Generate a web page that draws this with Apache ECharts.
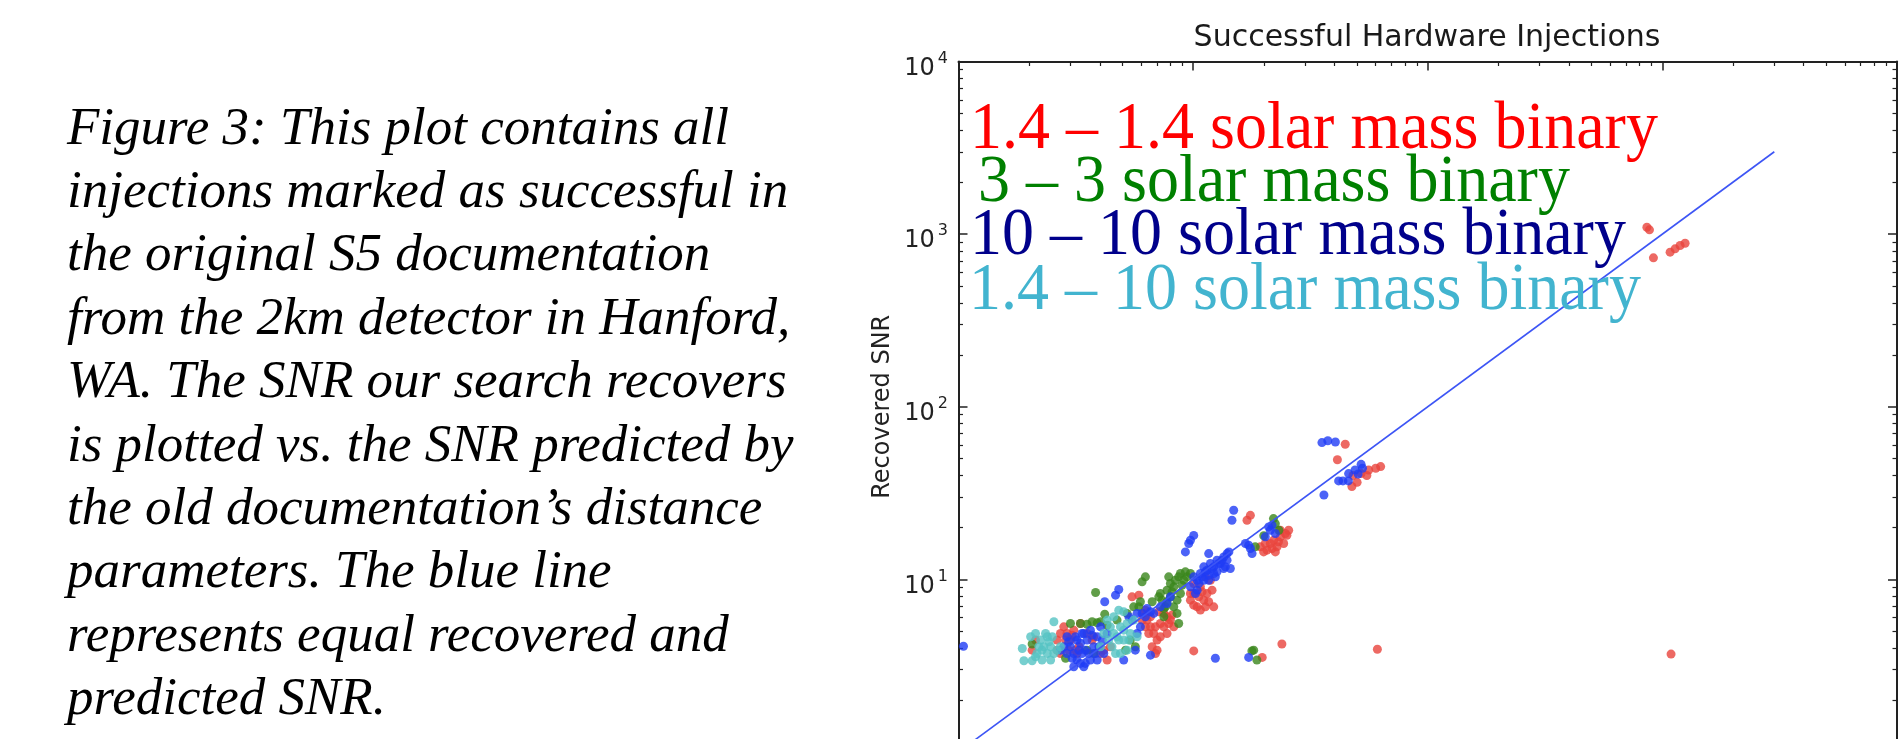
<!DOCTYPE html>
<html>
<head>
<meta charset="utf-8">
<script src="https://cdn.jsdelivr.net/npm/echarts@6/dist/echarts.min.js"></script>
<style>
html,body{margin:0;padding:0;background:#fff;}
#chart{width:1899px;height:739px;}
</style>
</head>
<body>
<div id="chart"></div>
<script>
// ---- data (predicted SNR, recovered SNR) ----
const seriesNames = [
  '1.4 \u2013 1.4 solar mass binary',
  '3 \u2013 3 solar mass binary',
  '10 \u2013 10 solar mass binary',
  '1.4 \u2013 10 solar mass binary'
];
const chartTitle = 'Successful Hardware Injections';
const yAxisName = 'Recovered SNR';
const captionLines = [
  'Figure 3: This plot contains all',
  'injections marked as successful in',
  'the original S5 documentation',
  'from the 2km detector in Hanford,',
  'WA. The SNR our search recovers',
  'is plotted vs. the SNR predicted by',
  'the old documentation\u2019s distance',
  'parameters. The blue line',
  'represents equal recovered and',
  'predicted SNR.'
];
const majorTicks = [1, 10, 100, 1000, 10000];
const minorTicks = [2,3,4,5,6,7,8,9,20,30,40,50,60,70,80,90,200,300,400,500,600,700,800,900,2000,3000,4000,5000,6000,7000,8000,9000];
const equalLine = [[1, 1], [3000, 3000]];

const red14 = [
  [2.06,3.89],[2.13,4.45],[2.63,4.45],[2.72,3.72],[2.81,5.31],[2.90,4.86],[3.00,4.45],[3.10,5.08],
  [3.15,3.89],[3.20,3.72],[3.31,5.55],[3.53,4.86],[3.71,4.45],[3.77,4.65],[4.03,3.72],[4.16,3.89],
  [4.30,3.41],[4.44,4.07],[2.72,4.86],[2.86,4.45],[3.05,4.75],[2.95,3.89],[3.26,4.07],[2.63,3.89],
  [6.16,6.35],[6.36,5.81],[6.58,5.31],[6.79,4.86],[7.02,4.45],[7.25,5.55],
  [7.50,6.35],[7.74,4.86],[8.00,5.81],[8.27,5.31],[6.69,4.07],[7.02,3.89],[6.91,3.72],[7.74,6.07],
  [6.26,6.63],[6.06,5.81],[6.47,4.86],[6.91,5.31],[7.25,4.65],[7.50,5.31],[7.87,5.55],[7.14,6.49],
  [6.58,6.07],[6.26,5.31],[8.13,6.21],
  [9.74,7.58],[10.06,8.28],[10.40,6.93],[10.74,9.05],[11.10,7.58],[11.46,8.28],[11.85,9.89],
  [12.24,6.93],[11.28,10.34],[10.06,9.46],[12.04,8.66],[9.74,8.28],[10.57,7.92],[10.92,8.47],[11.65,7.42],
  [10.06,7.09],[10.74,6.64],[11.28,6.93],
  [5.49,7.92],[5.87,8.10],[16.97,22.0],[17.54,23.5],
  [19.34,15.43],[20.65,14.76],[22.04,16.86],[22.78,15.43],[23.53,17.63],[24.72,18.43],[25.54,19.27],[24.32,16.13],
  [21.33,16.13],[19.98,14.43],[22.41,14.43],[23.53,19.27],[20.31,16.13],[23.1,16.5],[25.1,18.0],[21.7,15.1],
  [10.06,3.85],[23.9,4.22],[19.7,3.53],
  [41.2,49.3],[44.5,60.6],[47.5,34.5],[50,36.5],[48,40],[52,41],[55,40],[56,43],[60,44],[63,45],
  [859,1096],[881,1059],[916,729],[1079,786],[1133,822],[1190,859],[1250,886],
  [1089,3.69],[61,3.94]
];
const green3 = [
  [2.06,4.22],[3.84,8.39],[4.20,6.29],[3.31,5.55],[3.53,5.50],[3.90,5.60],[3.71,5.68],[3.00,5.55],
  [4.03,5.68],[4.30,5.43],[4.74,5.81],
  [2.86,3.49],[3.53,3.89],[3.77,3.72],[5.23,6.35],[5.58,6.93],[5.40,4.45],[5.67,4.07],[5.15,3.89],
  [5.87,6.93],[5.96,7.42],
  [6.06,9.68],[6.26,10.34],[6.69,7.42],[7.25,8.28],[7.62,6.93],[7.87,10.34],[8.27,9.05],[8.54,7.58],
  [8.83,10.81],[9.12,9.89],[9.42,10.34],[8.54,6.35],[8.68,5.55],[8.00,7.92],[7.50,6.07],[8.83,8.28],
  [8.27,6.93],[7.74,8.66],[7.37,7.58],[7.74,7.42],[8.13,8.47],[8.40,9.89],[8.97,9.25],[8.68,10.34],
  [8.00,9.46],[7.50,6.78],[7.14,7.92],[9.27,11.06],[9.74,10.81],
  [18.4,15.43],[20.0,17.9],[22.0,22.5],[22.4,21.0],[23.2,19.27],
  [18.12,3.89],[18.7,3.41],[17.8,3.85]
];
const blue10 = [
  [1.05,4.1],[2.72,3.89],[2.90,4.65],[3.00,4.07],[3.10,3.72],[3.20,3.41],[3.31,3.26],[3.42,4.86],
  [3.53,4.45],[3.65,5.08],[3.77,4.07],[3.90,4.65],[4.03,5.31],[4.16,3.72],[4.30,4.86],[3.20,4.45],
  [3.36,3.72],[3.65,3.41],[3.90,3.41],[3.47,3.26],[2.81,4.07],
  [2.90,3.72],[3.05,3.49],[3.15,4.65],[3.31,4.26],[3.47,3.89],[3.59,3.72],[3.71,4.75],[3.84,3.72],
  [3.97,4.07],[4.10,4.45],[3.26,3.89],[3.36,4.86],[3.10,3.12],[3.42,3.12],[2.95,4.35],
  [4.20,7.42],[4.67,8.10],[4.82,8.74],
  [5.32,6.07],[5.49,5.81],[5.77,4.86],[5.96,5.31],[5.67,3.89],[5.06,3.41],[5.77,6.35],[6.06,6.35],
  [6.36,6.78],[6.58,6.49],[6.26,6.07],[6.79,6.35],[7.25,6.93],[7.74,7.25],
  [8.00,7.92],[9.74,9.05],[10.06,10.34],[10.40,9.89],[10.74,10.81],[11.10,11.82],
  [11.46,11.30],[11.85,12.35],[12.24,11.82],[12.64,12.92],[13.06,12.35],[13.50,13.50],[13.95,14.11],[13.72,11.82],
  [14.41,11.56],[12.44,10.34],[11.65,9.89],[10.40,8.66],[10.23,8.28],[12.64,11.06],
  [10.57,9.46],[10.92,10.34],[11.28,11.06],[12.04,11.56],[12.85,12.35],[13.28,12.92],[13.50,11.56],[12.24,10.81],
  [11.65,10.57],[11.10,9.89],[13.95,12.92],[14.2,14.43],
  [9.27,14.43],[9.58,16.13],
  [9.74,16.86],[10.06,17.98],[11.65,14.11],[14.89,25.15],[14.64,22.0],[16.7,16.13],[17.25,15.78],[17.54,15.09],
  [17.83,14.11],[20.31,17.63],[20.99,20.14],[21.68,20.60],[22.41,18.43],[21.33,19.27],[6.58,3.64],[12.44,3.49],
  [17.25,3.53],[35.4,62],[37.5,63.5],[40.4,62.5],[36.1,30.8],[41.7,37.2],[43.5,37.2],[45.9,37.2],
  [46,41],[49,43],[52.7,44],[50.5,40.8],[52,46.4]
];
const cyan14_10 = [
  [1.87,3.98],[1.90,3.38],[2.06,3.38],[2.13,4.86],[2.35,4.86],[2.24,4.45],[2.31,4.07],[2.39,3.72],
  [2.47,3.41],[2.55,3.72],[2.63,3.89],[2.16,3.72],[2.27,3.41],[2.43,4.35],[2.55,5.68],[2.72,4.07],
  [2.20,4.07],[2.03,4.65],[2.51,4.65],[2.39,4.65],[2.27,3.89],[2.47,4.07],[2.13,3.56],
  [4.30,5.81],[4.59,6.07],[4.82,6.63],[5.06,6.49],[4.90,5.31],[4.74,4.65],[4.51,4.07],[4.67,3.72],
  [5.23,5.55],[5.40,4.86],[5.58,5.81],[5.06,4.45],[4.16,4.86],[4.37,4.45],[5.23,3.89],[4.03,4.07],
  [4.90,3.72],[5.77,4.65],[4.59,4.86],[4.82,4.45],[5.32,4.45],[4.44,5.31],[5.06,5.08]
];

const seriesColors = ['#e8433c', '#3a861c', '#1f3cf5', '#55c3c3'];
const legendColors = ['#ff0000', '#008000', '#00008b', '#42b4cf'];

const axisColor = '#222';
const tickFont = 'DejaVu Sans';

function logAxisBase(pos, extra) {
  return Object.assign({
    type: 'log', logBase: 10, min: majorTicks[0], max: majorTicks[majorTicks.length - 1],
    position: pos, splitLine: {show: false}, minorTick: {show: false}
  }, extra);
}

// legend text placement (baselines of the four coloured lines)
const legendX = [970, 978, 970, 969];
const legendBaseline = [150, 203, 256, 311];

const chart = echarts.init(document.getElementById('chart'), null, {renderer: 'canvas'});
const option = {
  backgroundColor: '#fff',
  animation: false,
  title: [
    {
      text: chartTitle, left: 1422, top: 18, textAlign: 'center',
      textStyle: {fontFamily: 'DejaVu Sans', fontSize: 30, fontWeight: 'normal', color: '#1a1a1a'}
    },
    {
      text: captionLines.join('\n'), left: 62, top: 93,
      textStyle: {fontFamily: 'Liberation Serif', fontStyle: 'italic', fontWeight: 'normal', fontSize: 53, lineHeight: 63.4, color: '#000'}
    }
  ],
  graphic: seriesNames.map((n, i) => ({
    type: 'text', x: legendX[i], y: legendBaseline[i] - 19, z: 10,
    originX: 0, originY: 19, scaleY: 1.07,
    style: {
      text: n, fill: legendColors[i], align: 'left', verticalAlign: 'middle',
      font: '64px "Liberation Serif"'
    }
  })),
  grid: {left: 958.5, right: 2, top: 61.5, bottom: -13, containLabel: false, outerBoundsMode: 'none'},
  xAxis: [
    logAxisBase('bottom', {
      axisLine: {show: true, lineStyle: {color: axisColor, width: 2}},
      axisTick: {show: true, inside: true, length: 9, customValues: majorTicks, lineStyle: {color: axisColor, width: 1.5}},
      axisLabel: {show: false}
    }),
    logAxisBase('top', {
      axisLine: {show: true, lineStyle: {color: axisColor, width: 2}},
      axisTick: {show: true, inside: true, length: 9, customValues: majorTicks, lineStyle: {color: axisColor, width: 1.5}},
      axisLabel: {show: false}
    }),
    logAxisBase('top', {
      axisLine: {show: false},
      axisTick: {show: true, inside: true, length: 4.5, customValues: minorTicks, lineStyle: {color: axisColor, width: 1.2}},
      axisLabel: {show: false}
    })
  ],
  yAxis: [
    logAxisBase('left', {
      name: yAxisName, nameLocation: 'middle', nameGap: 64, nameRotate: 90,
      nameTextStyle: {fontFamily: tickFont, fontSize: 24, color: axisColor},
      axisLine: {show: true, lineStyle: {color: axisColor, width: 2}},
      axisTick: {show: true, inside: true, length: 9, customValues: majorTicks, lineStyle: {color: axisColor, width: 1.5}},
      axisLabel: {
        show: true, customValues: majorTicks, margin: 10.5, padding: [8, 0, 0, 0],
        formatter: function (v) { return '{b|10}{s|' + Math.round(Math.log10(v)) + '}'; },
        rich: {
          b: {fontFamily: tickFont, fontSize: 24, lineHeight: 30, verticalAlign: 'bottom', color: axisColor},
          s: {fontFamily: tickFont, fontSize: 16, lineHeight: 12, verticalAlign: 'top', color: axisColor, padding: [0, 0, 0, 3]}
        }
      }
    }),
    logAxisBase('left', {
      axisLine: {show: false},
      axisTick: {show: true, inside: true, length: 4.5, customValues: minorTicks, lineStyle: {color: axisColor, width: 1.2}},
      axisLabel: {show: false}
    }),
    logAxisBase('right', {
      axisLine: {show: true, lineStyle: {color: axisColor, width: 2}},
      axisTick: {show: true, inside: true, length: 9, customValues: majorTicks, lineStyle: {color: axisColor, width: 1.5}},
      axisLabel: {show: false}
    }),
    logAxisBase('right', {
      axisLine: {show: false},
      axisTick: {show: true, inside: true, length: 4.5, customValues: minorTicks, lineStyle: {color: axisColor, width: 1.2}},
      axisLabel: {show: false}
    })
  ],
  series: [
    {name: seriesNames[0], type: 'scatter', data: red14, symbol: 'circle', symbolSize: 9, itemStyle: {color: seriesColors[0]}},
    {name: seriesNames[1], type: 'scatter', data: green3, symbol: 'circle', symbolSize: 9, itemStyle: {color: seriesColors[1]}},
    {name: seriesNames[2], type: 'scatter', data: blue10, symbol: 'circle', symbolSize: 9, itemStyle: {color: seriesColors[2]}},
    {name: seriesNames[3], type: 'scatter', data: cyan14_10, symbol: 'circle', symbolSize: 9, itemStyle: {color: seriesColors[3]}},
    {name: 'equal', type: 'line', data: equalLine, showSymbol: false, symbol: 'none',
      lineStyle: {color: '#3d55f5', width: 1.6}, z: 3}
  ]
};
chart.setOption(option);
</script>
</body>
</html>
